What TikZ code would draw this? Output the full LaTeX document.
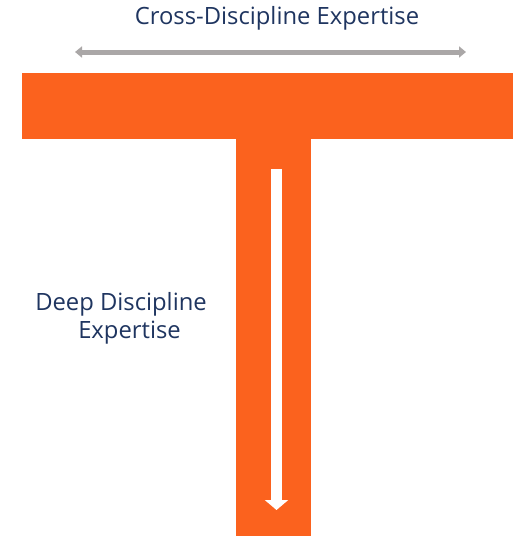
\documentclass[tikz,border=0pt]{standalone}
\usepackage{fontspec}
\setmainfont{Open Sans}
\usetikzlibrary{arrows.meta}
\definecolor{torange}{HTML}{FB621E}
\definecolor{tnavy}{HTML}{1F3560}
\definecolor{tgrey}{HTML}{AAA7A7}
\tikzset{
  bar/.style={fill=torange, draw=none},
  label/.style={text=tnavy, font=\fontsize{23.8}{28}\selectfont, inner sep=0pt},
  grayarrow/.style={tgrey, line width=5pt, {Triangle[width=11pt,length=7pt]}-{Triangle[width=11pt,length=7pt]}},
  whitearrow/.style={white, line width=11.5pt, -{Triangle[width=23pt,length=10pt]}}
}
\begin{document}
\begin{tikzpicture}[x=1pt,y=-1pt]
\useasboundingbox (0,0) rectangle (519,536);
\fill[white] (0,0) rectangle (519,536);
% T shape
\path[bar] (22,73) rectangle (513,139);
\path[bar] (236,138) rectangle (311,536);
% labels
\node[label] (cross) at (277,18) {Cross-Discipline Expertise};
\node[label, align=center] (deep) at (121,318) {Deep Discipline\\\hspace*{17pt}Expertise};
% arrows
\coordinate (gl) at (75,52);
\coordinate (gr) at (466,52);
\draw[grayarrow] (gl) -- (gr);
\coordinate (wt) at (276.5,169);
\coordinate (wb) at (276.5,510);
\draw[whitearrow] (wt) -- (wb);
\end{tikzpicture}
\end{document}
